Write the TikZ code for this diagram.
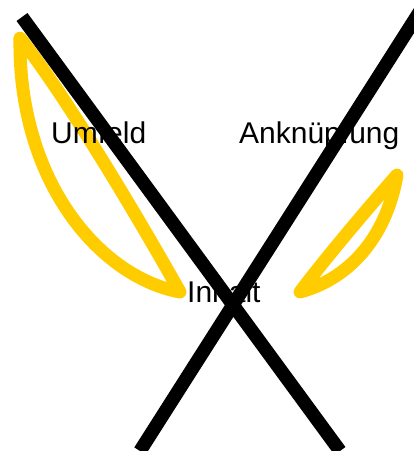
\documentclass[tikz,border=0pt]{standalone}
\usepackage{fontspec}
\setmainfont{Liberation Sans}
\usepackage{tikz}
\usetikzlibrary{arrows.meta,calc,positioning}

\definecolor{loopyellow}{RGB}{255,204,0}

\begin{document}
\begin{tikzpicture}[x=1pt,y=-1pt,
  loopline/.style={line width=13pt,loopyellow,line cap=round,line join=round},
  crossline/.style={line width=13.5pt,black,line cap=butt},
  label/.style={font=\fontsize{30}{36}\selectfont,inner sep=0pt,anchor=base west}]
\useasboundingbox (0,0) rectangle (414,451);

% Left loop
\draw[loopline]
  (20,38) .. controls (65,95) and (135,212) .. (180,292)
          .. controls (100,277) and (18,182) .. cycle;

% Right loop
\draw[loopline]
  (300,292) .. controls (328,255) and (368,208) .. (397,175)
            .. controls (387,234) and (352,278) .. cycle;

% Labels
\node[label] (umfeld) at (51,143) {Umfeld};
\node[label] (ankn) at (239,143) {Anknüpfung};
\node[label] (inhalt) at (187,302) {Inhalt};

% Cross
\coordinate (tl) at (22,17);
\coordinate (br) at (340,451);
\coordinate (tr) at (422,8);
\coordinate (bl) at (140,451);
\draw[crossline] (tl) -- (br);
\draw[crossline] (tr) -- (bl);
\end{tikzpicture}
\end{document}
